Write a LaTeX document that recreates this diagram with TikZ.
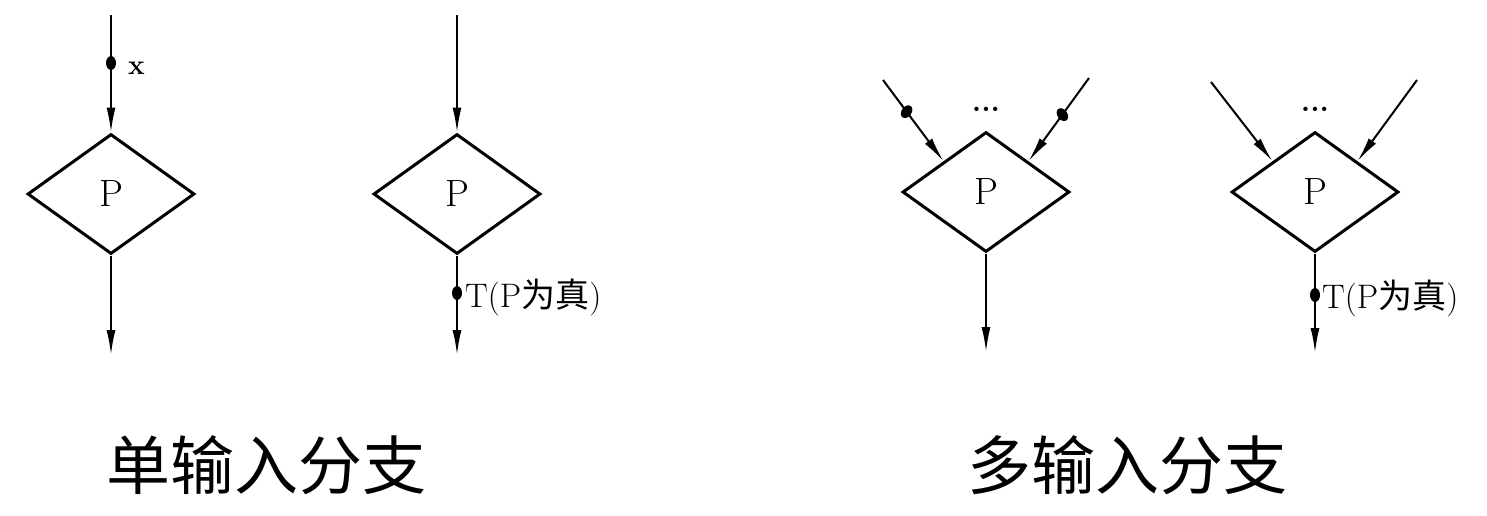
\documentclass[tikz,border=0pt]{standalone}
\usepackage{fontspec}
\newfontfamily\cjk{Noto Sans CJK SC}
\usetikzlibrary{shapes.geometric,arrows.meta,calc}
\begin{document}
\begin{tikzpicture}[x=1pt,y=-1pt,
  dia/.style={draw,diamond,line width=3pt,inner sep=0pt,minimum width=167pt,minimum height=120pt,font=\fontsize{38}{38}\selectfont},
  conn/.style={line width=2pt},
  arr/.style={conn,-{Latex[length=25pt,width=9pt]}},
  dotn/.style={fill,ellipse,inner sep=0pt,minimum width=10pt,minimum height=14pt},
  lbl/.style={font=\fontsize{34}{34}\selectfont,anchor=west,inner sep=0pt},
  dots/.style={font=\bfseries\fontsize{30}{30}\selectfont,anchor=base,inner sep=0pt},
  title/.style={font=\cjk\fontsize{64}{64}\selectfont,inner sep=0pt}]
\useasboundingbox (0,0) rectangle (1487,515);
% diagram 1
\node[dia] (d1) at (111,194) {P};
\coordinate (t1) at (111,15);
\coordinate (b1) at (111,355);
\draw[arr] (t1) -- (d1.north);
\draw[arr] (d1.south) -- (b1);
\node[dotn] (x1) at (111,63) {};
\node[lbl,font=\bfseries\fontsize{28}{28}\selectfont] (xl) at (128,68) {x};
% diagram 2
\node[dia] (d2) at (457,194) {P};
\coordinate (t2) at (457,15);
\coordinate (b2) at (457,355);
\draw[arr] (t2) -- (d2.north);
\draw[arr] (d2.south) -- (b2);
\node[dotn] (x2) at (457,293) {};
\node[lbl] (l2) at (465,297) {T(P{\cjk 为真})};
% diagram 3
\node[dia] (d3) at (986,192) {P};
\coordinate (a3) at (883,80);
\coordinate (c3) at (1089,78);
\coordinate (b3) at (986,352);
\draw[arr] (a3) -- (d3.north west);
\draw[arr] (c3) -- (d3.north east);
\draw[arr] (d3.south) -- (b3);
\node[dotn,rotate=-35] (x3a) at ($(a3)!0.39!(d3.north west)$) {};
\node[dotn,rotate=35] (x3c) at ($(c3)!0.44!(d3.north east)$) {};
\node[dots] (e3) at (986,111) {...};
% diagram 4
\node[dia] (d4) at (1315,192) {P};
\coordinate (a4) at (1211,82);
\coordinate (c4) at (1417,80);
\coordinate (b4) at (1315,353);
\draw[arr] (a4) -- (d4.north west);
\draw[arr] (c4) -- (d4.north east);
\draw[arr] (d4.south) -- (b4);
\node[dotn] (x4) at (1315,295) {};
\node[lbl] (l4) at (1322,298) {T(P{\cjk 为真})};
\node[dots] (e4) at (1315,111) {...};
% titles
\node[title] (tt1) at (266,465) {单输入分支};
\node[title] (tt2) at (1127,465) {多输入分支};
\end{tikzpicture}
\end{document}
